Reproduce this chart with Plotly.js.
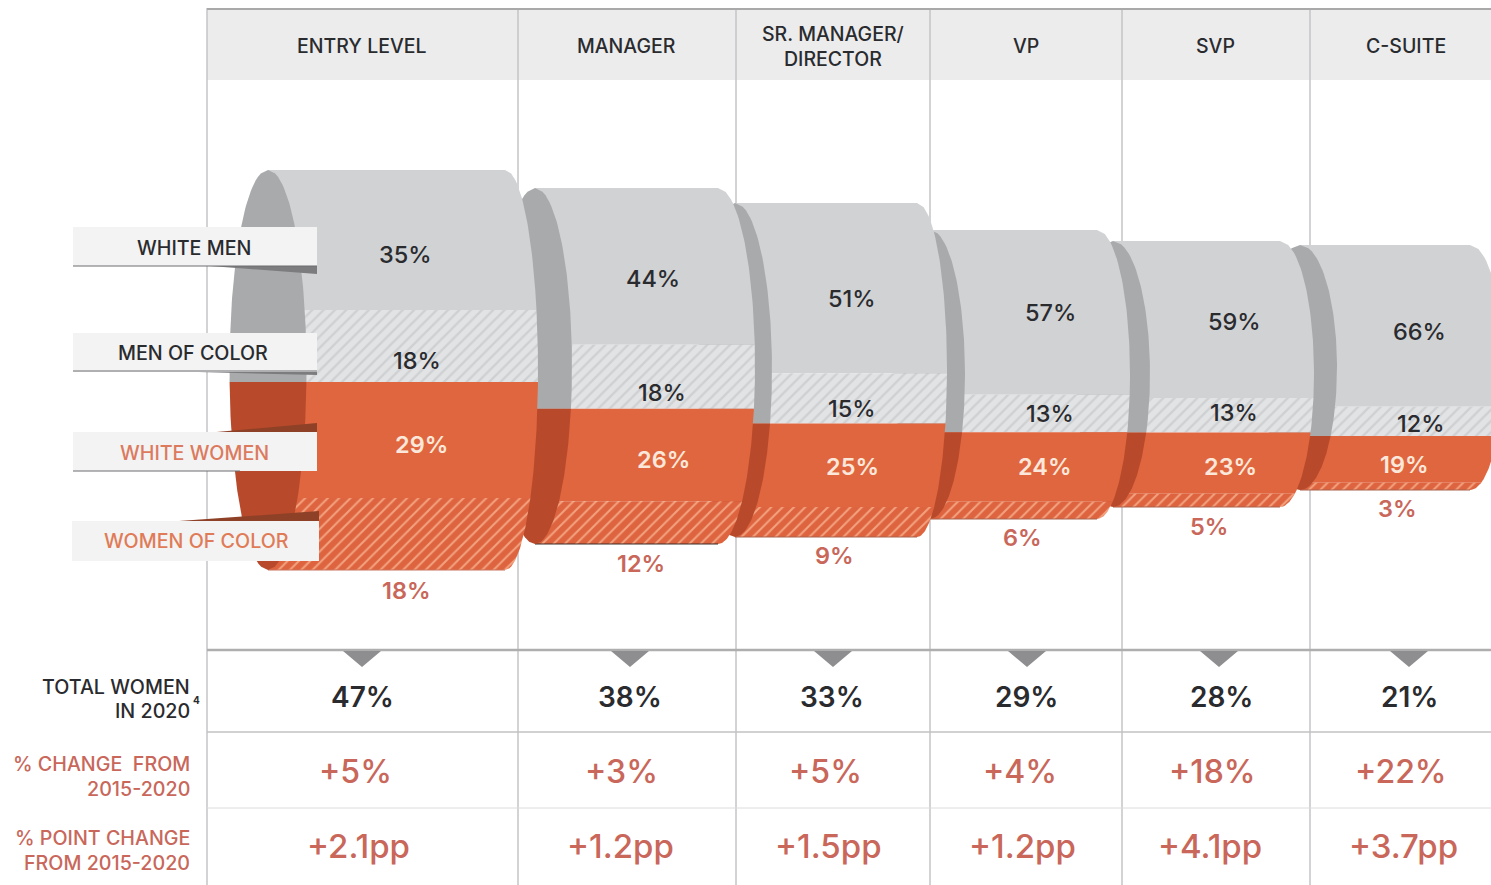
<!DOCTYPE html>
<html>
<head>
<meta charset="utf-8">
<title>Women in the corporate pipeline, 2020</title>
<script src="https://cdn.plot.ly/plotly-3.0.1.min.js"></script>
<style>html,body{margin:0;padding:0;background:#fff}#chart{width:1491px;height:885px}</style>
</head>
<body>
<div id="chart"></div>
<script>
// ---- Values ----
const levels = ['ENTRY LEVEL', 'MANAGER', 'SR. MANAGER/<br>DIRECTOR', 'VP', 'SVP', 'C-SUITE'];
const whiteMen = [35, 44, 51, 57, 59, 66];
const menOfColor = [18, 18, 15, 13, 13, 12];
const whiteWomen = [29, 26, 25, 24, 23, 19];
const womenOfColor = [18, 12, 9, 6, 5, 3];
const totalWomen = [47, 38, 33, 29, 28, 21];
const pctChange = [5, 3, 5, 4, 18, 22];
const ppChange = [2.1, 1.2, 1.5, 1.2, 4.1, 3.7];

// ---- Drum geometry for each level, on a 1491 x 885 canvas scale ----
const drumTop = [170, 188, 203, 230, 241, 245];
const drumBottom = [570, 544, 537, 519, 507, 490];
const capCentre = [268, 535, 735, 930, 1113, 1300];
const capRadius = [38.5, 37, 37, 35, 37, 37];
const shoulderX = [505, 718, 917, 1097, 1280, 1470];
const shoulderRadius = [33, 37, 30, 33, 34, 33];
const floorColor = ['#c9735a', '#3f2a24', '#a9604b', '#a9604b', '#a9604b', '#a9604b'];

// ---- Column layout ----
const columnEdges = [207, 518, 736, 930, 1122, 1310];
const headerX = [362, 626, 833, 1026, 1215, 1406];
const pointerX = [362, 630, 833, 1027, 1219, 1409];
const totalX = [362, 630, 832, 1026, 1222, 1409];
const changeX = [355, 621, 825, 1020, 1212, 1401];
const pointX = [358, 620, 828, 1022, 1210, 1403];

// ---- Where the share labels sit ----
const labelPos = {
  whiteMen: {x: [405, 653, 852, 1050, 1234, 1419], y: [254, 278, 298, 312, 321, 331]},
  menOfColor: {x: [417, 662, 852, 1050, 1234, 1421], y: [360, 392, 408, 413, 412, 423]},
  whiteWomen: {x: [421, 663, 852, 1045, 1230, 1404], y: [444, 459, 466, 466, 466, 464]},
  womenOfColor: {x: [406, 641, 834, 1022, 1209, 1397], y: [590, 563, 555, 537, 526, 508]}
};

// ---- Palette ----
const FONT = 'Inter, Lato, sans-serif';
const INK = '#2a2b2e';
const ROSE = '#c8675a';
const GREY_BODY = '#d1d2d4';
const GREY_CAP = '#a9aaac';
const ORANGE = '#e0663f';
const RED_CAP = '#b84a2b';

const traces = [];

function addPoly(xs, ys, color, pattern) {
  const t = {
    type: 'scatter', mode: 'lines', x: xs, y: ys,
    fill: 'toself', fillcolor: color,
    line: {width: 0, color: color},
    hoverinfo: 'skip', showlegend: false
  };
  if (pattern) t.fillpattern = pattern;
  traces.push(t);
}

// Half-width of an ellipse at height y across the drum's vertical span.
function spread(i, y) {
  const mid = (drumTop[i] + drumBottom[i]) / 2;
  const half = (drumBottom[i] - drumTop[i]) / 2;
  const t = Math.min(1, Math.abs(y - mid) / half);
  return Math.sqrt(1 - t * t);
}

function steps(a, b, n) {
  const out = [];
  for (let k = 0; k <= n; k++) out.push(a + (b - a) * k / n);
  return out;
}

// One horizontal slice of the drum body, bulging at its right-hand end.
function addSlice(i, y0, y1, color, pattern) {
  const ys = steps(y0, y1, 40);
  const xs = ys.map(y => shoulderX[i] + shoulderRadius[i] * spread(i, y));
  addPoly([capCentre[i], ...xs, capCentre[i]], [y0, ...ys, y1], color, pattern);
}

// The visible inside of the drum's left end, split at a given height.
function addCap(i, y0, y1, color) {
  const ys = steps(y0, y1, 60);
  const right = ys.map(y => capCentre[i] + capRadius[i] * spread(i, y));
  const left = ys.map(y => capCentre[i] - capRadius[i] * spread(i, y)).reverse();
  addPoly([...right, ...left], [...ys, ...ys.slice().reverse()], color);
}

const greyHatch = {shape: '/', fgcolor: '#cfd0d2', bgcolor: '#e2e3e4', size: 8, solidity: 0.28, fillmode: 'replace'};
const orangeHatch = {shape: '/', fgcolor: '#f3a27f', bgcolor: '#de6440', size: 8, solidity: 0.25, fillmode: 'replace'};

// Right-most drum first so that each level overlaps the next one along.
for (let i = levels.length - 1; i >= 0; i--) {
  const scale = (drumBottom[i] - drumTop[i]) / 100;
  const y1 = drumTop[i] + whiteMen[i] * scale;
  const y2 = y1 + menOfColor[i] * scale;
  const y3 = y2 + whiteWomen[i] * scale;
  addSlice(i, drumTop[i], y1, GREY_BODY);
  addSlice(i, y1, y2, '#e2e3e4', greyHatch);
  addSlice(i, y2, y3, ORANGE);
  addSlice(i, y3, drumBottom[i], '#de6440', orangeHatch);
  traces.push({
    type: 'scatter', mode: 'lines', x: [capCentre[i], shoulderX[i]], y: [drumBottom[i], drumBottom[i]],
    line: {color: floorColor[i], width: 1.2}, hoverinfo: 'skip', showlegend: false
  });
  addCap(i, drumTop[i], y2, GREY_CAP);
  addCap(i, y2, drumBottom[i], RED_CAP);
}

// Pointers under the drum area.
pointerX.forEach(x => addPoly([x - 19, x + 19, x], [651, 651, 667], '#8e8e90'));

// ---- Rules, header band and the tags that name each group ----
const shapes = [];
function rule(x0, y0, x1, y1, color, width) {
  shapes.push({type: 'line', xref: 'x', yref: 'y', x0, y0, x1, y1, layer: 'below', line: {color, width}});
}
shapes.push({type: 'rect', xref: 'x', yref: 'y', x0: 207, x1: 1491, y0: 10, y1: 80, layer: 'below', fillcolor: '#ececed', line: {width: 0}});
columnEdges.forEach(x => rule(x, 8, x, 885, '#c4c5c7', 1.5));
rule(207, 9, 1491, 9, '#a9a9a9', 2);
rule(207, 650, 1491, 650, '#aeaeae', 2.5);
rule(207, 732, 1491, 732, '#c2c2c2', 1.5);
rule(207, 808, 1491, 808, '#dcdcdc', 1);

function wedge(pts, color) {
  const d = pts.map((p, k) => (k ? 'L' : 'M') + p[0] + ',' + p[1]).join(' ') + ' Z';
  shapes.push({type: 'path', xref: 'x', yref: 'y', path: d, layer: 'above', fillcolor: color, line: {width: 0}});
}
function tag(x0, x1, y0, y1) {
  shapes.push({type: 'rect', xref: 'x', yref: 'y', x0, x1, y0, y1, layer: 'above', fillcolor: '#f3f3f3', line: {width: 0}});
}
wedge([[210, 266], [317, 266], [317, 274]], '#7c7c7f');
wedge([[160, 371], [317, 371], [317, 375]], '#7c7c7f');
wedge([[205, 433], [317, 423], [317, 433]], '#8f4127');
wedge([[165, 522], [319, 511], [319, 522]], '#8f4127');
tag(73, 317, 227, 266);
tag(73, 317, 333, 372);
tag(73, 317, 432, 471);
tag(72, 319, 521, 561);
[[266, 317], [371, 317], [471, 240]].forEach(([y, x1]) => {
  shapes.push({type: 'line', xref: 'x', yref: 'y', x0: 73, x1, y0: y, y1: y, layer: 'above', line: {color: '#6d6d70', width: 1}});
});

// ---- Text ----
const annotations = [];
function say(text, x, y, size, color, anchor, weight) {
  annotations.push({
    text, x, y, xref: 'x', yref: 'y', showarrow: false,
    xanchor: anchor || 'center', yanchor: 'middle', align: anchor || 'center',
    font: {family: FONT, size, color, weight: weight || 500}
  });
}

levels.forEach((name, i) => {
  say(name, headerX[i], 46, 19.5, INK);
  say(whiteMen[i] + '%', labelPos.whiteMen.x[i], labelPos.whiteMen.y[i], 23.5, INK);
  say(menOfColor[i] + '%', labelPos.menOfColor.x[i], labelPos.menOfColor.y[i], 23.5, INK);
  say(whiteWomen[i] + '%', labelPos.whiteWomen.x[i], labelPos.whiteWomen.y[i], 23.5, '#fbe8da', null, 600);
  say(womenOfColor[i] + '%', labelPos.womenOfColor.x[i], labelPos.womenOfColor.y[i], 23.5, ROSE, null, 600);
  say(totalWomen[i] + '%', totalX[i], 697, 28, INK, null, 600);
  say('+' + pctChange[i] + '%', changeX[i], 771, 32, ROSE);
  say('+' + ppChange[i].toFixed(1) + 'pp', pointX[i], 846, 33, ROSE);
});

say('WHITE MEN', 194, 248, 19.7, INK);
say('MEN OF COLOR', 193, 353, 19.7, INK);
say('WHITE WOMEN', 194, 453, 19.7, '#dc7a5e');
say('WOMEN OF COLOR', 196, 541, 19.7, '#e07b58');

say('TOTAL WOMEN', 192, 687, 19.7, INK, 'right');
say('IN 2020', 192, 711, 19.7, INK, 'right');
say('4', 196, 700, 10, INK, null, 700);
say('% CHANGE  FROM', 192, 764, 19.7, ROSE, 'right');
say('2015-2020', 192, 789, 19.7, ROSE, 'right');
say('% POINT CHANGE', 192, 838, 19.7, ROSE, 'right');
say('FROM 2015-2020', 192, 863, 19.7, ROSE, 'right');

const layout = {
  width: 1491, height: 885,
  margin: {l: 0, r: 0, t: 0, b: 0},
  paper_bgcolor: '#fff', plot_bgcolor: '#fff',
  hovermode: false, showlegend: false,
  xaxis: {range: [0, 1491], visible: false, fixedrange: true},
  yaxis: {range: [885, 0], visible: false, fixedrange: true},
  shapes, annotations
};

Plotly.newPlot('chart', traces, layout, {displayModeBar: false, staticPlot: true});
</script>
</body>
</html>
